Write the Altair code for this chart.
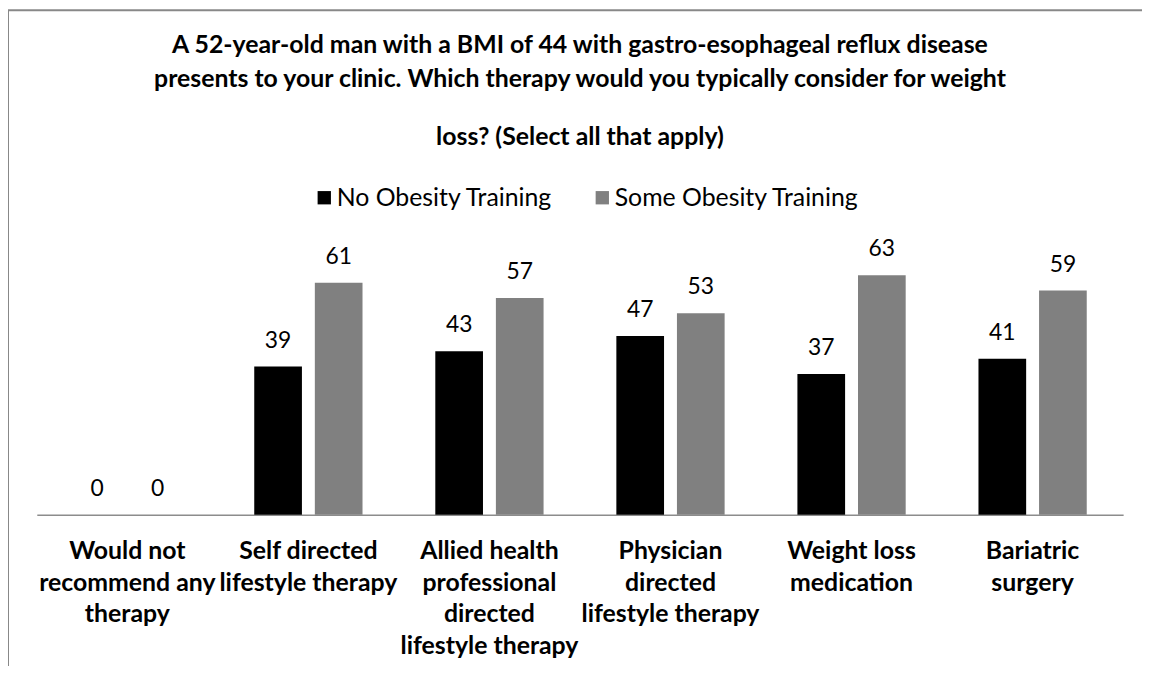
import altair as alt
import pandas as pd

categories = [
    "Would not\nrecommend any\ntherapy",
    "Self directed\nlifestyle therapy",
    "Allied health\nprofessional\ndirected\nlifestyle therapy",
    "Physician\ndirected\nlifestyle therapy",
    "Weight loss\nmedication",
    "Bariatric\nsurgery",
]
groups = ["No Obesity Training", "Some Obesity Training"]
no_training = [0, 39, 43, 47, 37, 41]
some_training = [0, 61, 57, 53, 63, 59]

rows = []
for c, a, b in zip(categories, no_training, some_training):
    rows.append({"category": c, "group": groups[0], "value": a})
    rows.append({"category": c, "group": groups[1], "value": b})
df = pd.DataFrame(rows)

FONT = "Lato"

x_enc = alt.X(
    "category:N",
    sort=categories,
    title=None,
    scale=alt.Scale(paddingInner=0.402, paddingOuter=0.201),
    axis=alt.Axis(
        labelExpr="split(datum.label, '\\n')",
        labelAngle=0,
        labelFont=FONT,
        labelFontSize=25,
        labelFontWeight="bold",
        labelColor="#000000",
        labelLineHeight=32,
        labelPadding=24,
        labelLimit=300,
        ticks=False,
        domainColor="#8c8c8c",
        domainWidth=1.5,
        grid=False,
    ),
)
xoff = alt.XOffset("group:N", sort=groups, scale=alt.Scale(paddingInner=0.213, paddingOuter=0))
y_enc = alt.Y("value:Q", scale=alt.Scale(domain=[0, 70]), axis=None)

bars = alt.Chart(df).mark_bar().encode(
    x=x_enc,
    xOffset=xoff,
    y=y_enc,
    color=alt.Color(
        "group:N",
        sort=groups,
        scale=alt.Scale(domain=groups, range=["#000000", "#808080"]),
        legend=alt.Legend(
            title=None,
            orient="none",
            legendX=277,
            legendY=-64,
            direction="horizontal",
            symbolType="square",
            symbolSize=180,
            symbolStrokeWidth=0,
            labelFont=FONT,
            labelFontSize=25,
            labelColor="#000000",
            labelOffset=0,
            columnPadding=37,
            symbolOffset=0,
            labelLimit=400,
        ),
    ),
)

labels = alt.Chart(df).mark_text(
    baseline="alphabetic", dy=-19, font=FONT, fontSize=23, color="#000000"
).encode(x=x_enc, xOffset=xoff, y=y_enc, text="value:Q")

frame_src = pd.DataFrame({"k": [0]})
left_border = alt.Chart(frame_src).mark_rule(color="#888888", strokeWidth=2).encode(
    x=alt.value(-29), y=alt.value(-240), y2=alt.value(700)
)
top_border = alt.Chart(frame_src).mark_rule(color="#888888", strokeWidth=2).encode(
    x=alt.value(-30), x2=alt.value(1150), y=alt.value(-240)
)

chart = (
    alt.layer(bars, labels, left_border, top_border)
    .properties(
        width=1094,
        height=268,
        view=alt.ViewBackground(stroke="transparent", strokeWidth=0, strokeOpacity=0),
        autosize=alt.AutoSizeParams(type="none"),
        padding={"left": 29, "top": 240, "right": 19, "bottom": 150},
        title=alt.TitleParams(
            text=[
                "A 52-year-old man with a BMI of 44 with gastro-esophageal reflux disease",
                "presents to your clinic. Which therapy would you typically consider for weight",
            ],
            subtitle="loss? (Select all that apply)",
            font=FONT,
            fontSize=25,
            fontWeight="bold",
            color="#000000",
            lineHeight=34,
            subtitleFont=FONT,
            subtitleFontSize=25,
            subtitleFontWeight="bold",
            subtitleColor="#000000",
            subtitlePadding=34,
            anchor="middle",
            frame="group",
            offset=-142,
        ),
    )
    .configure_view(stroke="transparent", strokeWidth=0, strokeOpacity=0)
    .configure(background="#ffffff")
)

chart.save("out.html", embed_options={"renderer": "svg", "actions": False})
